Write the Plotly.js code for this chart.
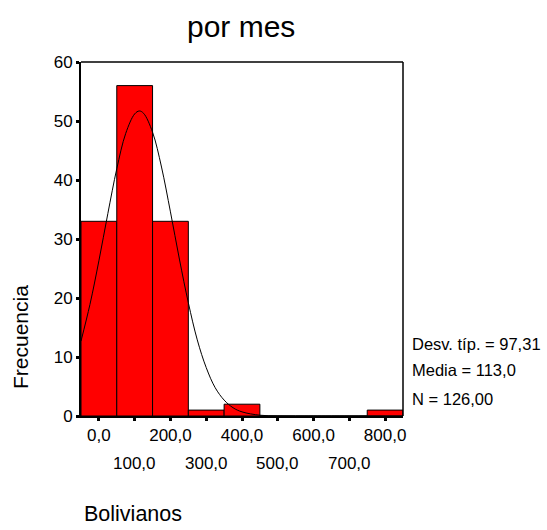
<!DOCTYPE html>
<html>
<head>
<meta charset="utf-8">
<script src="https://cdn.plot.ly/plotly-3.0.1.min.js"></script>
<style>html,body{margin:0;padding:0;background:#fff;}#chart{width:547px;height:530px;}</style>
</head>
<body>
<div id="chart"></div>
<script>
// Histogram bins (centres, Bolivianos) and frequencies
const binCenters = [0, 100, 200, 300, 400, 500, 600, 700, 800];
const counts = [33, 56, 33, 1, 2, 0, 0, 0, 1];
const binWidth = 100;

// Normal curve
const curveX = [-50, -25, 0, 25, 50, 75, 100, 113, 125, 150, 175, 200, 225, 250, 275, 300, 325, 350, 375, 400, 450, 500, 550, 600, 700, 850];
const curveY = [12.7, 18.9, 26.3, 34.3, 41.9, 47.9, 51.2, 51.7, 51.3, 48.1, 42.2, 34.6, 26.6, 19.2, 12.9, 8.2, 4.8, 2.7, 1.4, 0.7, 0.13, 0.02, 0, 0, 0, 0];

// Tick labels
const xTickVals = [0, 100, 200, 300, 400, 500, 600, 700, 800];
const xTickText = ['0,0', '100,0', '200,0', '300,0', '400,0', '500,0', '600,0', '700,0', '800,0'];
const yTickVals = [0, 10, 20, 30, 40, 50, 60];
const yTickText = ['0', '10', '20', '30', '40', '50', '60'];

// Texts
const titleText = 'por mes';
const xTitle = 'Bolivianos';
const yTitle = 'Frecuencia';
const statsLines = ['Desv. típ. = 97,31', 'Media = 113,0', 'N = 126,00'];

const FONT = 'Liberation Sans, Arial, Helvetica, sans-serif';

const traces = [
  {
    type: 'bar',
    x: binCenters,
    y: counts,
    width: binCenters.map(() => binWidth),
    marker: {color: '#ff0000', line: {color: '#000', width: 1}},
    hoverinfo: 'x+y'
  },
  {
    type: 'scatter',
    mode: 'lines',
    x: curveX,
    y: curveY,
    line: {color: '#000', width: 1, shape: 'spline'},
    hoverinfo: 'skip'
  }
];

const W = 547, H = 530, L = 81, R = 144, T = 62, B = 114;
const pw = W - L - R, ph = H - T - B;
const px = v => (v - L) / pw;
const py = v => (H - B - v) / ph;

const annotations = [];
annotations.push({text: titleText, xref: 'paper', yref: 'paper', x: px(241), y: py(27), xanchor: 'center', yanchor: 'middle', showarrow: false, font: {family: FONT, size: 30, color: '#000'}});
annotations.push({text: yTitle, xref: 'paper', yref: 'paper', x: px(20), y: py(337), xanchor: 'center', yanchor: 'middle', textangle: -90, showarrow: false, font: {family: FONT, size: 21, color: '#000'}});
annotations.push({text: xTitle, xref: 'paper', yref: 'paper', x: px(82), y: py(514), xanchor: 'left', yanchor: 'middle', showarrow: false, font: {family: FONT, size: 21.5, color: '#000'}});
const statsY = [343.5, 369.5, 399];
statsLines.forEach((s, i) => {
  annotations.push({text: s, xref: 'paper', yref: 'paper', x: px(410), y: py(statsY[i]), xanchor: 'left', yanchor: 'middle', showarrow: false, font: {family: FONT, size: 16.5, color: '#000'}});
});
// second row of x tick labels (odd ticks)
xTickVals.forEach((v, i) => {
  if (i % 2 === 1) {
    annotations.push({text: xTickText[i], xref: 'x', yref: 'paper', x: v, y: py(463.5), xanchor: 'center', yanchor: 'middle', showarrow: false, font: {family: FONT, size: 17, color: '#000'}});
  }
});

const layout = {
  width: W, height: H,
  margin: {l: L, r: R, t: T, b: B, pad: 0},
  paper_bgcolor: '#fff', plot_bgcolor: '#fff',
  showlegend: false,
  bargap: 0,
  font: {family: FONT, size: 17, color: '#000'},
  xaxis: {
    range: [-50, 850],
    tickvals: xTickVals,
    ticktext: xTickText.map((t, i) => i % 2 === 0 ? t : ''),
    ticks: 'outside', ticklen: 3, tickwidth: 3, tickcolor: '#000',
    showline: true, linecolor: '#000', linewidth: 2,
    showgrid: false, zeroline: false,
    tickfont: {family: FONT, size: 17, color: '#000'},
    fixedrange: true
  },
  yaxis: {
    range: [0, 60],
    tickvals: yTickVals,
    ticktext: yTickText,
    ticks: 'outside', ticklen: 3, tickwidth: 3, tickcolor: '#000',
    showline: true, linecolor: '#000', linewidth: 2,
    showgrid: false, zeroline: false,
    tickfont: {family: FONT, size: 17, color: '#000'},
    fixedrange: true
  },
  shapes: [
    {type: 'line', xref: 'paper', yref: 'paper', x0: 0, x1: 1, y0: 1, y1: 1, line: {color: '#000', width: 1.5}},
    {type: 'line', xref: 'paper', yref: 'paper', x0: 1, x1: 1, y0: 0, y1: 1, line: {color: '#000', width: 1.5}}
  ],
  annotations: annotations
};

Plotly.newPlot('chart', traces, layout, {displayModeBar: false, staticPlot: true});
</script>
</body>
</html>
